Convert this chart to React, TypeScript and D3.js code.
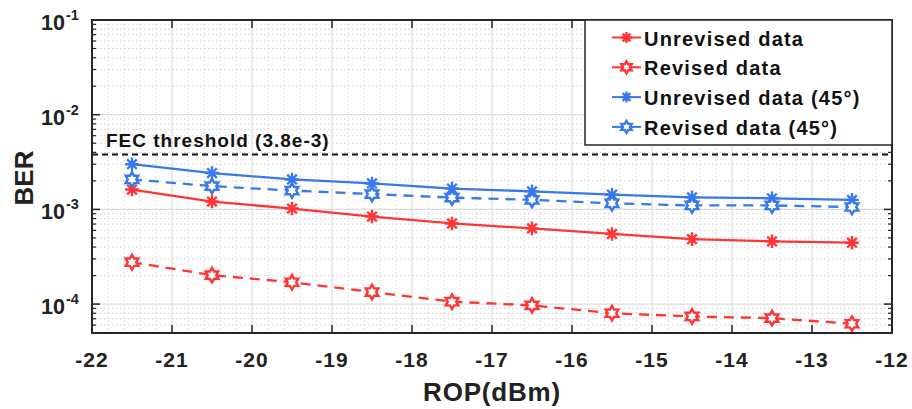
import React from "react";
import * as d3 from "d3";

const rop = [-21.5, -20.5, -19.5, -18.5, -17.5, -16.5, -15.5, -14.5, -13.5, -12.5];
const unrevised = [1.62e-3, 1.21e-3, 1.02e-3, 8.4e-4, 7.1e-4, 6.3e-4, 5.5e-4, 4.85e-4, 4.6e-4, 4.45e-4];
const revised = [2.77e-4, 2.02e-4, 1.7e-4, 1.34e-4, 1.06e-4, 9.7e-5, 8.0e-5, 7.4e-5, 7.1e-5, 6.2e-5];
const unrevised45 = [3.0e-3, 2.42e-3, 2.07e-3, 1.88e-3, 1.66e-3, 1.55e-3, 1.43e-3, 1.34e-3, 1.31e-3, 1.26e-3];
const revised45 = [2.07e-3, 1.76e-3, 1.58e-3, 1.45e-3, 1.33e-3, 1.26e-3, 1.16e-3, 1.1e-3, 1.1e-3, 1.06e-3];
const xTicks = [-22, -21, -20, -19, -18, -17, -16, -15, -14, -13, -12];
const yExponents = [-1, -2, -3, -4];
const fecValue = 3.8e-3;
const seriesNames = ["Unrevised data", "Revised data", "Unrevised data (45°)", "Revised data (45°)"];

const RED = "#ff3535";
const BLUE = "#3878e8";

const W = 912, H = 409;
const L = 92, R = 892, T = 20, B = 333;

const x = d3.scaleLinear().domain([-22, -12]).range([L, R]);
const y = d3.scaleLog().domain([4.95e-5, 0.1]).range([B, T]);

function asteriskPath(cx: number, cy: number, r: number) {
  let d = "";
  for (let i = 0; i < 4; i++) {
    const a = (i * Math.PI) / 4;
    const dx = r * Math.cos(a), dy = r * Math.sin(a);
    d += `M${cx - dx},${cy - dy}L${cx + dx},${cy + dy}`;
  }
  return d;
}
function hexagramPath(cx: number, cy: number, r: number) {
  const pts: [number, number][] = [];
  const ri = r * 0.577;
  for (let i = 0; i < 12; i++) {
    const a = -Math.PI / 2 + (i * Math.PI) / 6;
    const rr = i % 2 === 0 ? r : ri;
    pts.push([cx + rr * Math.cos(a), cy + rr * Math.sin(a)]);
  }
  return "M" + pts.map((p) => p.join(",")).join("L") + "Z";
}

type S = { name: string; values: number[]; color: string; dashed: boolean; marker: "ast" | "hex" };
const series: S[] = [
  { name: seriesNames[0], values: unrevised, color: RED, dashed: false, marker: "ast" },
  { name: seriesNames[1], values: revised, color: RED, dashed: true, marker: "hex" },
  { name: seriesNames[2], values: unrevised45, color: BLUE, dashed: false, marker: "ast" },
  { name: seriesNames[3], values: revised45, color: BLUE, dashed: true, marker: "hex" },
];

function Marker({ m, cx, cy, color, r }: { m: string; cx: number; cy: number; color: string; r: number }) {
  if (m === "ast") return <path d={asteriskPath(cx, cy, r)} stroke={color} strokeWidth={2.4} fill="none" />;
  return <path d={hexagramPath(cx, cy, r)} stroke={color} strokeWidth={2.4} fill="white" />;
}

export default function App() {
  const line = d3.line<[number, number]>().x((d) => x(d[0])).y((d) => y(d[1]));
  const minorX: number[] = [];
  for (let v = -22; v <= -12.001; v += 0.2) {
    const r = Math.round(v * 10) / 10;
    if (Math.abs(r - Math.round(r)) > 0.01) minorX.push(r);
  }
  const minorY: number[] = [];
  for (let e = -5; e <= -2; e++) {
    for (let k = 2; k <= 9; k++) {
      const v = k * Math.pow(10, e);
      if (v >= 4.95e-5 && v <= 0.1) minorY.push(v);
    }
  }
  const font = "Arial, 'Liberation Sans', Helvetica, sans-serif";
  const legX = 585, legY = 20, legW = 307, legH = 125;
  return (
    <svg width={W} height={H} style={{ position: "absolute", left: 0, top: 0, background: "white" }} fontFamily={font}>
      <rect x={L} y={T} width={R - L} height={B - T} fill="white" />
      {/* minor grid */}
      {minorX.map((v) => (
        <line key={"mx" + v} x1={x(v)} x2={x(v)} y1={T} y2={B} stroke="#d2d2d2" strokeWidth={1} strokeDasharray="1.5,2.5" />
      ))}
      {minorY.map((v) => (
        <line key={"my" + v} x1={L} x2={R} y1={y(v)} y2={y(v)} stroke="#d2d2d2" strokeWidth={1} strokeDasharray="1.5,2.5" />
      ))}
      {/* major grid */}
      {xTicks.map((v) => (
        <line key={"gx" + v} x1={x(v)} x2={x(v)} y1={T} y2={B} stroke="#dcdcdc" strokeWidth={1.2} />
      ))}
      {yExponents.map((e) => (
        <line key={"gy" + e} x1={L} x2={R} y1={y(Math.pow(10, e))} y2={y(Math.pow(10, e))} stroke="#dcdcdc" strokeWidth={1.2} />
      ))}
      {/* FEC threshold */}
      <line x1={L} x2={R} y1={y(fecValue)} y2={y(fecValue)} stroke="#111" strokeWidth={1.8} strokeDasharray="6,4" />
      <text x={106} y={y(fecValue) - 7} fontSize={19} letterSpacing={1} fontWeight="bold" fill="#111">FEC threshold (3.8e-3)</text>
      {/* series */}
      {series.map((s) => (
        <g key={s.name}>
          <path
            d={line(rop.map((r, i) => [r, s.values[i]]) as [number, number][]) || ""}
            fill="none"
            stroke={s.color}
            strokeWidth={2.3}
            strokeDasharray={s.dashed ? "10,7" : undefined}
          />
          {rop.map((r, i) => (
            <Marker key={i} m={s.marker} cx={x(r)} cy={y(s.values[i])} color={s.color} r={s.marker === "ast" ? 6.8 : 7.3} />
          ))}
        </g>
      ))}
      {/* axis box and ticks */}
      {xTicks.map((v) => (
        <g key={"tx" + v}>
          <line x1={x(v)} x2={x(v)} y1={B} y2={B - 8} stroke="#222" strokeWidth={1.5} />
          <line x1={x(v)} x2={x(v)} y1={T} y2={T + 8} stroke="#222" strokeWidth={1.5} />
          <text x={x(v)} y={367} textAnchor="middle" fontSize={21} letterSpacing={1} fontWeight="bold" fill="#222">{v}</text>
        </g>
      ))}
      {yExponents.map((e) => (
        <g key={"ty" + e}>
          <line x1={L} x2={L + 8} y1={y(Math.pow(10, e))} y2={y(Math.pow(10, e))} stroke="#222" strokeWidth={1.5} />
          <line x1={R} x2={R - 8} y1={y(Math.pow(10, e))} y2={y(Math.pow(10, e))} stroke="#222" strokeWidth={1.5} />
          <text x={65} y={y(Math.pow(10, e)) + 10} textAnchor="end" fontSize={21.5} fontWeight="bold" fill="#222">10</text>
          <text x={66} y={y(Math.pow(10, e))} textAnchor="start" fontSize={14.5} fontWeight="bold" fill="#222">{"-" + Math.abs(e)}</text>
        </g>
      ))}
      {minorY.map((v) => (
        <g key={"tmy" + v}>
          <line x1={L} x2={L + 4} y1={y(v)} y2={y(v)} stroke="#222" strokeWidth={1.2} />
          <line x1={R} x2={R - 4} y1={y(v)} y2={y(v)} stroke="#222" strokeWidth={1.2} />
        </g>
      ))}
      <rect x={L} y={T} width={R - L} height={B - T} fill="none" stroke="#262626" strokeWidth={2} />
      {/* axis labels */}
      <text x={(L + R) / 2} y={401} textAnchor="middle" fontSize={26} letterSpacing={0.8} fontWeight="bold" fill="#222">ROP(dBm)</text>
      <text transform={`translate(33,178) rotate(-90)`} textAnchor="middle" fontSize={26} fontWeight="bold" fill="#222">BER</text>
      {/* legend */}
      <rect x={legX} y={legY} width={legW} height={legH} fill="white" stroke="#262626" strokeWidth={1.5} />
      {series.map((s, i) => {
        const ly = legY + 17.5 + i * 29.8;
        return (
          <g key={"lg" + i}>
            <line x1={612} x2={641} y1={ly} y2={ly} stroke={s.color} strokeWidth={2} />
            <Marker m={s.marker} cx={626.5} cy={ly} color={s.color} r={s.marker === "ast" ? 5.5 : 6} />
            <text x={644} y={ly + 8} fontSize={20} letterSpacing={1.2} fontWeight="bold" fill="#111">{s.name}</text>
          </g>
        );
      })}
    </svg>
  );
}
